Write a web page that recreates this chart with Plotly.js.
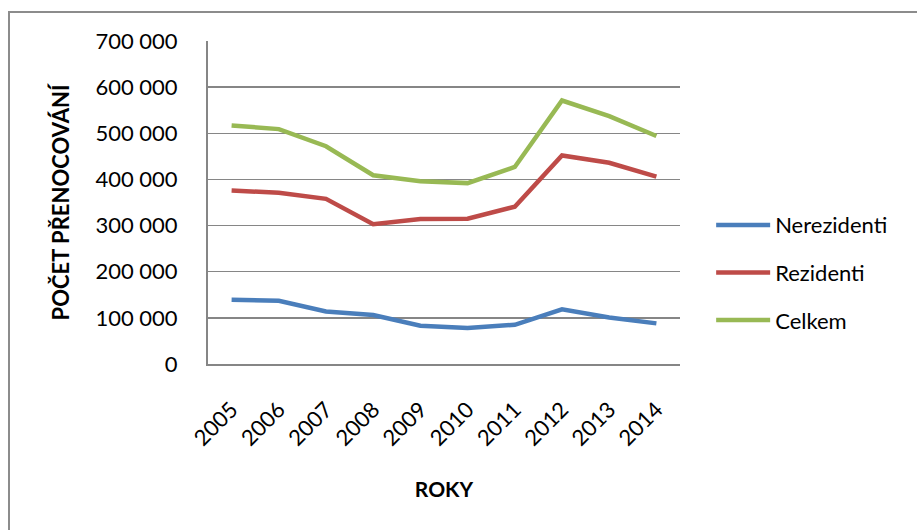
<!DOCTYPE html>
<html>
<head>
<meta charset="utf-8">
<script src="https://cdn.plot.ly/plotly-3.0.1.min.js"></script>
<style>
  html, body { margin: 0; padding: 0; background: #fff; }
  #wrap { position: relative; width: 917px; height: 530px; }
  #chart { width: 917px; height: 530px; }
  #frame { position: absolute; left: 8px; top: 11px; width: 920px; height: 530px;
           border-left: 2px solid #8c8c8c; border-top: 2px solid #8c8c8c; pointer-events: none; }
</style>
</head>
<body>
<div id="wrap">
  <div id="chart"></div>
  <div id="frame"></div>
</div>
<script>
const years = ['2005','2006','2007','2008','2009','2010','2011','2012','2013','2014'];
const nerezidenti = [139500, 137000, 114000, 106000, 83000, 78000, 85000, 118500, 101000, 88000];
const rezidenti   = [376000, 371000, 358000, 303000, 314000, 315000, 341000, 452000, 436000, 406000];
const celkem      = [517000, 509000, 472000, 409000, 396000, 392000, 427000, 571000, 537000, 494000];
const yTicks = [0, 100000, 200000, 300000, 400000, 500000, 600000, 700000];

const FONT = 'Lato, "Open Sans", sans-serif';
const mk = (name, y, color, grp) => ({
  type: 'scatter', mode: 'lines', name: name, x: years, y: y,
  line: { color: color, width: 4.5 }, legendgroup: grp
});

const data = [
  mk('Nerezidenti', nerezidenti, '#4A7EBB', 'a'),
  mk('Rezidenti', rezidenti, '#BE4B48', 'b'),
  mk('Celkem', celkem, '#98B954', 'c')
];

const layout = {
  width: 917, height: 530,
  margin: { l: 208, r: 237, t: 41, b: 166 },
  paper_bgcolor: '#fff', plot_bgcolor: '#fff',
  separators: ', ',
  font: { family: FONT, size: 23, color: '#000' },
  showlegend: true,
  legend: {
    x: 1.066, xanchor: 'left', y: 0.283, yanchor: 'middle',
    font: { family: FONT, size: 22, color: '#000' },
    itemwidth: 54, tracegroupgap: 16,
    bgcolor: 'rgba(0,0,0,0)'
  },
  xaxis: {
    type: 'category', range: [-0.5, 9.5],
    tickangle: -45, ticks: '', ticklabelstandoff: 22,
    showline: true, linecolor: '#868686', linewidth: 2,
    showgrid: false, zeroline: false, automargin: true,
    tickfont: { family: FONT, size: 22, color: '#000' },
    title: { text: '<b>ROKY</b>', font: { family: FONT, size: 21, color: '#000' }, standoff: 32 }
  },
  yaxis: {
    range: [0, 700000], tickvals: yTicks, tickformat: ',d',
    ticks: '', ticklabelstandoff: 24,
    showline: true, linecolor: '#868686', linewidth: 2,
    showgrid: true, gridcolor: '#868686', gridwidth: 1.5,
    zeroline: false, automargin: true,
    tickfont: { family: FONT, size: 22, color: '#000' },
    title: { text: '<b>POČET PŘENOCOVÁNÍ</b>', font: { family: FONT, size: 22, color: '#000' }, standoff: 20 }
  }
};

Plotly.newPlot('chart', data, layout, { staticPlot: true, displayModeBar: false });
</script>
</body>
</html>
